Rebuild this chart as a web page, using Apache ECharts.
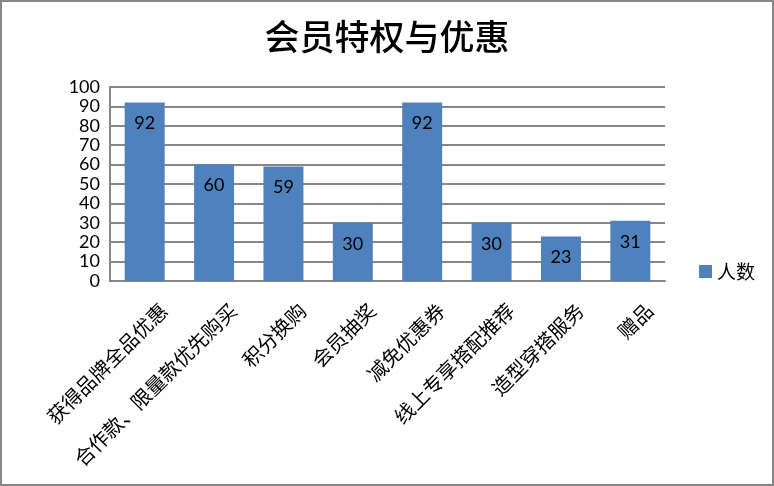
<!DOCTYPE html>
<html>
<head>
<meta charset="utf-8">
<script src="https://cdn.jsdelivr.net/npm/echarts@6/dist/echarts.min.js"></script>
<style>
  html, body { margin: 0; padding: 0; background: #fff; }
  #main { width: 770px; height: 482px; border: 2px solid #868686; }
</style>
</head>
<body>
<div id="main"></div>
<script>
// 会员特权与优惠 柱状图
var categories = ['获得品牌全品优惠', '合作款、限量款优先购买', '积分换购', '会员抽奖', '减免优惠券', '线上专享搭配推荐', '造型穿搭服务', '赠品'];
var counts = [92, 60, 59, 30, 92, 30, 23, 31];
var yTicks = { min: 0, max: 100, interval: 10 };

var myChart = echarts.init(document.getElementById('main'));
var option = {
    backgroundColor: '#fff',
    title: {
        text: '会员特权与优惠',
        left: 'center',
        top: 12,
        textStyle: {
            fontFamily: 'Noto Sans CJK SC',
            fontSize: 35,
            fontWeight: 500,
            color: '#000'
        }
    },
    legend: {
        data: ['人数'],
        orient: 'vertical',
        left: 692,
        top: 255,
        icon: 'rect',
        itemWidth: 13,
        itemHeight: 13,
        itemGap: 6,
        textStyle: { fontFamily: 'Noto Sans CJK SC', fontSize: 19, color: '#000' }
    },
    grid: {
        left: 108,
        right: 107,
        top: 85,
        bottom: 203
    },
    xAxis: {
        type: 'category',
        data: categories,
        axisLine: { lineStyle: { color: '#868686', width: 2 } },
        axisTick: { show: false },
        axisLabel: {
            rotate: 45,
            interval: 0,
            margin: 45,
            padding: [0, -27, 0, 0],   // 标签整体往右上挪
            fontFamily: 'Noto Sans CJK SC',
            fontSize: 20,
            color: '#000'
        }
    },
    yAxis: {
        type: 'value',
        min: yTicks.min,
        max: yTicks.max,
        interval: yTicks.interval,
        axisLine: { show: true, lineStyle: { color: '#868686', width: 2 } },
        axisTick: { show: false },
        splitLine: { lineStyle: { color: '#868686', width: 2 } },
        axisLabel: {
            margin: 10,
            fontFamily: 'Lato',
            fontSize: 18,
            color: '#000'
        }
    },
    series: [
        {
            name: '人数',
            type: 'bar',
            data: counts,
            barWidth: 40,
            itemStyle: { color: '#4F81BD' },
            label: {
                show: true,
                position: 'insideTop',
                distance: 12,
                fontFamily: 'Lato',
                fontSize: 18,
                color: '#000'
            }
        }
    ]
};
myChart.setOption(option);
</script>
</body>
</html>
